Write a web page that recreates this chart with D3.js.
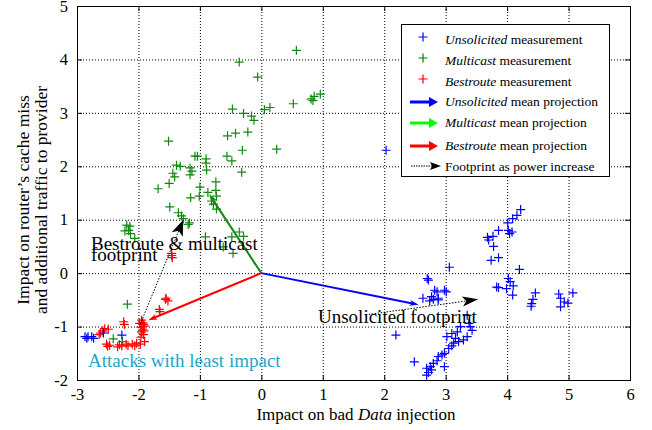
<!DOCTYPE html>
<html><head><meta charset="utf-8">
<script src="https://cdn.jsdelivr.net/npm/d3@7"></script>
<style>body{margin:0;background:#fff}svg{display:block}</style>
</head><body>
<svg id="c" width="652" height="430"></svg>
<script>
const xTicks = [-3,-2,-1,0,1,2,3,4,5,6];
const yTicks = [-2,-1,0,1,2,3,4,5];

const unsolicited = [
 [-2.87,-1.19],[-2.82,-1.19],[-2.76,-1.19],[-2.73,-1.22],[-2.84,-1.22],[-2.57,-1.12],[-2.27,-1.16],
 [2.03,2.30],[2.19,-1.16],[2.49,-1.66],
 [3.06,0.11],[2.70,-0.10],[2.72,-0.13],[2.82,-0.32],[2.86,-0.35],[2.98,-0.32],[3.01,-0.35],
 [2.63,-0.47],[2.77,-0.44],[2.80,-0.49],[2.88,-0.47],[2.74,-0.52],[2.88,-0.50],
 [3.35,-0.79],[3.38,-0.94],[3.40,-1.00],[3.24,-1.00],[3.19,-1.10],[3.10,-1.13],[3.35,-1.19],[3.02,-1.19],
 [3.21,-1.28],[3.29,-1.25],[3.13,-1.31],[3.10,-1.36],[2.98,-1.50],[2.88,-1.56],[2.94,-1.53],[2.86,-1.64],
 [2.80,-1.69],[2.75,-1.75],[2.69,-1.78],[2.77,-1.81],[2.72,-1.86],[2.98,-1.75],[2.69,-1.91],[3.43,-1.07],
 [3.16,-1.22],[3.05,-1.41],
 [4.22,1.19],[4.16,1.08],[4.09,1.02],[4.01,0.94],[3.86,0.80],[4.02,0.80],[4.08,0.77],[4.04,0.74],
 [3.68,0.67],[3.70,0.62],[3.77,0.69],[3.78,0.50],[3.74,0.24],[3.86,0.29],[4.20,0.07],[4.02,-0.10],
 [4.05,-0.16],[3.83,-0.26],[3.86,-0.27],[3.99,-0.29],[4.10,-0.24],[4.09,-0.41],[4.46,-0.37],[4.42,-0.49],
 [4.40,-0.57],[4.39,-0.62],[4.84,-0.39],[4.87,-0.47],[4.93,-0.54],[4.87,-0.63],[4.99,-0.56],[5.07,-0.37]
];
const multicast = [
 [0.57,4.17],[-0.36,3.95],[-0.06,3.67],[-0.47,3.07],[-0.29,2.99],[-0.16,2.94],[-0.12,2.86],[0.05,3.06],
 [0.14,3.10],[0.52,3.17],[0.81,3.26],[0.86,3.31],[0.96,3.35],[0.84,3.23],[-0.42,2.62],[-0.55,2.57],
 [-0.22,2.64],[-1.51,2.47],[-0.31,2.30],[0.25,2.32],[-0.56,2.19],[-0.48,2.10],[-0.32,1.89],[-1.08,2.19],
 [-1.04,2.19],[-0.90,2.14],[-0.90,2.06],[-1.38,2.02],[-1.32,2.00],[-1.16,1.97],[-1.13,1.91],[-1.16,1.84],
 [-1.44,1.87],[-1.41,1.80],[-0.89,1.93],[-0.74,1.71],[-1.50,1.68],[-1.68,1.58],[-1.00,1.61],[-0.87,1.51],
 [-0.74,1.55],[-1.15,1.41],[-1.01,1.44],[-0.73,1.44],[-0.81,1.35],[-0.78,1.29],[-0.73,1.20],[-1.49,1.24],
 [-1.35,1.13],[-1.30,1.07],[-1.27,1.02],[-1.17,0.94],[-1.19,0.91],[-2.19,0.90],[-2.14,0.88],[-2.22,0.79],
 [-2.16,0.80],[-2.13,0.74],[-2.06,0.65],[-0.91,0.68],[-0.62,0.49],[-0.48,0.68],[-0.36,0.77],[-0.29,0.69],
 [-0.46,0.37],[-2.18,-0.58],[-2.41,-1.23],[-2.26,-1.28]
];
const bestroute = [
 [-1.46,0.37],[-1.45,0.29],[-1.46,0.33],[-1.55,-0.47],[-1.52,-0.52],[-1.56,-0.49],[-1.66,-0.68],[-1.65,-0.72],
 [-2.24,-0.91],[-2.23,-0.96],[-1.95,-0.88],[-1.93,-0.93],[-1.90,-0.99],[-1.96,-1.01],[-1.93,-1.05],[-1.95,-1.10],
 [-1.92,-1.15],[-1.96,-1.20],[-1.90,-1.28],[-1.97,-1.33],[-2.03,-1.31],[-2.06,-1.36],[-2.10,-1.33],[-2.17,-1.36],
 [-2.20,-1.33],[-2.27,-1.36],[-2.31,-1.34],[-2.34,-1.38],[-2.47,-1.35],[-2.50,-1.37],[-2.52,-1.33],[-2.62,-1.12],
 [-2.58,-1.08],[-2.55,-1.04],[-2.49,-1.05],[-2.64,-1.15],[-1.92,-0.96],[-1.98,-0.94],[-1.91,-1.08]
];
// mean projections [from, to]
const meanUnsolicited = [[0,0],[2.56,-0.59]];
const meanMulticast = [[0,0],[-0.85,1.48]];
const meanBestroute = [[0,0],[-1.84,-0.88]];
// footprints
const footBestMulti = [[-1.97,-0.95],[-1.27,1.00]];
const footUnsolicited = [[1.70,-0.78],[3.53,-0.49]];

const legendItems = [
 {type:"marker", color:"#0000ff", it:"Unsolicited", rest:" measurement"},
 {type:"marker", color:"#008000", it:"Multicast", rest:" measurement"},
 {type:"marker", color:"#ff0000", it:"Bestroute", rest:" measurement"},
 {type:"arrow", color:"#0000ff", it:"Unsolicited", rest:" mean projection"},
 {type:"arrow", color:"#00ff00", it:"Multicast", rest:" mean projection"},
 {type:"arrow", color:"#ff0000", it:"Bestroute", rest:" mean projection"},
 {type:"foot", color:"#000", it:"", rest:"Footprint as power increase"}
];

const FONT = "'Liberation Serif','Times New Roman',serif";
const svg = d3.select("#c");
const L=77, R=630, T=6, B=380;
const x = d3.scaleLinear().domain([-3,6]).range([L,R]);
const y = d3.scaleLinear().domain([-2,5]).range([B,T]);

// grid
const g = svg.append("g");
g.selectAll(".gx").data(xTicks.slice(1,-1)).join("line")
 .attr("x1",d=>x(d)+0.5).attr("x2",d=>x(d)+0.5).attr("y1",T).attr("y2",B)
 .attr("stroke","#000").attr("stroke-width",1).attr("stroke-dasharray","1,2");
g.selectAll(".gy").data(yTicks.slice(1,-1)).join("line")
 .attr("y1",d=>y(d)+0.5).attr("y2",d=>y(d)+0.5).attr("x1",L).attr("x2",R)
 .attr("stroke","#000").attr("stroke-width",1).attr("stroke-dasharray","1,2");

// axes
const ax = svg.append("g").attr("transform",`translate(0,${B})`)
 .call(d3.axisBottom(x).tickValues(xTicks).tickFormat(d3.format("d")).tickSizeInner(-5).tickSizeOuter(0).tickPadding(8));
const ay = svg.append("g").attr("transform",`translate(${L},0)`)
 .call(d3.axisLeft(y).tickValues(yTicks).tickFormat(d3.format("d")).tickSizeInner(-5).tickSizeOuter(0).tickPadding(9));
const axT = svg.append("g").attr("transform",`translate(0,${T})`)
 .call(d3.axisTop(x).tickValues(xTicks).tickFormat("").tickSizeInner(-5).tickSizeOuter(0));
const ayR = svg.append("g").attr("transform",`translate(${R},0)`)
 .call(d3.axisRight(y).tickValues(yTicks).tickFormat("").tickSizeInner(-5).tickSizeOuter(0));
[ax,ay,axT,ayR].forEach(a=>{a.select(".domain").remove();
 a.selectAll("text").attr("font-family",FONT).attr("font-size",16.5).attr("fill","#000");
 a.selectAll("line").attr("stroke","#000");});
ay.selectAll("text").text(d=>d<0?"-"+Math.abs(d):d);
ax.selectAll("text").text(d=>d<0?"-"+Math.abs(d):d);

svg.append("rect").attr("x",L+0.5).attr("y",T+0.5).attr("width",R-L).attr("height",B-T)
 .attr("fill","none").attr("stroke","#000").attr("stroke-width",1);

// markers
function plus(sel, data, color){
 const s = 4.5;
 sel.append("g").selectAll("path").data(data).join("path")
  .attr("d",d=>`M${x(d[0])-s},${y(d[1])}H${x(d[0])+s}M${x(d[0])},${y(d[1])-s}V${y(d[1])+s}`)
  .attr("stroke",color).attr("stroke-width",1.2).attr("fill","none");
}
plus(svg, multicast, "#118811");
plus(svg, bestroute, "#ff0000");
plus(svg, unsolicited, "#0000ff");

// arrows
function arrow(p0,p1,color,width,headLen,headW,dash){
 const x0=x(p0[0]),y0=y(p0[1]),x1=x(p1[0]),y1=y(p1[1]);
 const ang=Math.atan2(y1-y0,x1-x0);
 const bx=x1-headLen*Math.cos(ang), by=y1-headLen*Math.sin(ang);
 svg.append("line").attr("x1",x0).attr("y1",y0).attr("x2",bx+ (headLen*0.3)*Math.cos(ang)).attr("y2",by+(headLen*0.3)*Math.sin(ang))
  .attr("stroke",color).attr("stroke-width",width).attr("stroke-dasharray",dash||null);
 const nx=-Math.sin(ang), ny=Math.cos(ang);
 svg.append("path").attr("d",`M${x1},${y1}L${bx+nx*headW/2},${by+ny*headW/2}L${bx+headLen*0.25*Math.cos(ang)},${by+headLen*0.25*Math.sin(ang)}L${bx-nx*headW/2},${by-ny*headW/2}Z`)
  .attr("fill",color);
}
arrow(meanUnsolicited[0],meanUnsolicited[1],"#0000ff",2,9,6);
arrow(meanMulticast[0],meanMulticast[1],"#118811",2,9,6);
arrow(meanBestroute[0],meanBestroute[1],"#ff0000",2,9,6);
arrow(footBestMulti[0],footBestMulti[1],"#000",1,16,12,"1.5,1.5");
arrow(footUnsolicited[0],footUnsolicited[1],"#000",1,16,10,"1.5,1.5");

// annotations
const ann = svg.append("g").attr("font-family",FONT).attr("font-size",19);
ann.append("text").attr("x",91).attr("y",250).text("Bestroute & multicast");
ann.append("text").attr("x",91).attr("y",261).text("footprint");
ann.append("text").attr("x",318).attr("y",323).text("Unsolicited footprint");
ann.append("text").attr("x",88).attr("y",367).attr("fill","#1ca8c8").text("Attacks with least impact");

// axis labels
const xl = svg.append("text").attr("x",356).attr("y",420).attr("text-anchor","middle")
 .attr("font-family",FONT).attr("font-size",17);
xl.append("tspan").text("Impact on bad ");
xl.append("tspan").attr("font-style","italic").text("Data");
xl.append("tspan").text(" injection");
svg.append("text").attr("transform","translate(29,200) rotate(-90)").attr("text-anchor","middle")
 .attr("font-family",FONT).attr("font-size",17.5).text("Impact on router\u2019s cache miss");
svg.append("text").attr("transform","translate(47,200) rotate(-90)").attr("text-anchor","middle")
 .attr("font-family",FONT).attr("font-size",17.5).text("and additional traffic to provider");

// legend
const lg = svg.append("g");
lg.append("rect").attr("x",401.5).attr("y",24.5).attr("width",208).attr("height",152)
 .attr("fill","#fff").attr("stroke","#000").attr("stroke-width",1);
const rowY = [40,61,82,102,123,146,167];
legendItems.forEach((it,i)=>{
 const cy=rowY[i];
 if(it.type==="marker"){
  lg.append("path").attr("d",`M${418.5},${cy-3}H${427.5}M${423},${cy-7.5}V${cy+1.5}`)
   .attr("stroke",it.color).attr("stroke-width",1.2);
 } else if(it.type==="arrow"){
  lg.append("line").attr("x1",410).attr("x2",431).attr("y1",cy).attr("y2",cy).attr("stroke",it.color).attr("stroke-width",3);
  lg.append("path").attr("d",`M438,${cy}L429,${cy-5}L429,${cy+5}Z`).attr("fill",it.color);
 } else {
  lg.append("line").attr("x1",411).attr("x2",432).attr("y1",cy-1).attr("y2",cy-1).attr("stroke","#000").attr("stroke-width",1.2).attr("stroke-dasharray","1.5,1");
  lg.append("path").attr("d",`M441,${cy-1}L430,${cy-5}L432,${cy-1}L430,${cy+3}Z`).attr("fill","#000");
 }
 const t = lg.append("text").attr("x",445).attr("y",cy+4).attr("font-family",FONT).attr("font-size",13.5);
 if(it.it) t.append("tspan").attr("font-style","italic").text(it.it);
 t.append("tspan").text(it.rest);
});
</script>
</body></html>
